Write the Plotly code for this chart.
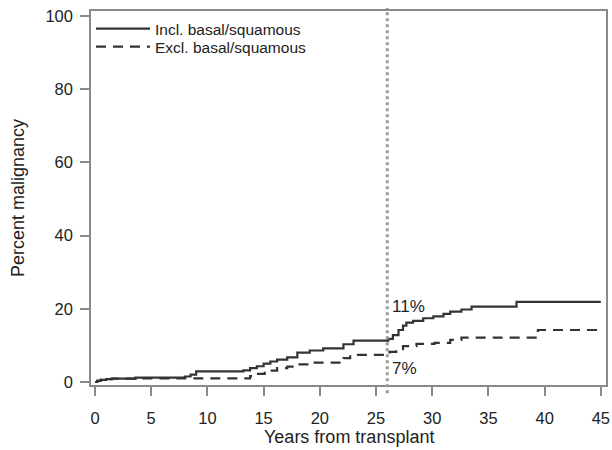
import plotly.graph_objects as go

# Data (years from transplant, percent malignancy)
incl_years = [0, 0.2, 0.5, 1.0, 1.5, 3.6, 8.0, 8.5, 9.0, 13.2, 13.8, 14.4, 15.0, 15.6, 16.2,
              17.1, 18.0, 19.1, 20.3, 22.1, 23.0, 26.1, 26.5, 27.0, 27.4, 27.7, 28.3, 29.2,
              30.1, 31.0, 31.6, 32.6, 33.5, 37.5, 45]
incl_pct = [0, 0.3, 0.6, 0.8, 0.9, 1.2, 1.5, 2.0, 2.9, 3.2, 3.8, 4.3, 5.0, 5.6, 6.1,
            6.7, 8.0, 8.6, 9.2, 10.3, 11.3, 11.8, 12.8, 14.2, 15.4, 16.2, 16.7, 17.4,
            17.9, 18.6, 19.2, 19.8, 20.6, 21.9, 21.9]

excl_years = [0, 0.2, 0.5, 1.0, 1.5, 3.6, 13.8, 14.5, 15.1, 16.2, 17.1, 18.2, 19.1, 22.1,
              22.7, 26.2, 26.8, 27.4, 28.6, 30.2, 31.6, 32.6, 39.4, 45]
excl_pct = [0, 0.3, 0.6, 0.8, 0.9, 1.0, 1.6, 2.2, 3.1, 3.8, 4.2, 4.8, 5.3, 6.5,
            7.4, 8.2, 9.0, 9.8, 10.4, 10.7, 11.5, 12.1, 14.2, 14.2]

series_names = ["Incl. basal/squamous", "Excl. basal/squamous"]
cutoff_year = 26
labels = ["11%", "7%"]
label_y = [20.7, 3.8]
x_ticks = [0, 5, 10, 15, 20, 25, 30, 35, 40, 45]
y_ticks = [0, 20, 40, 60, 80, 100]
x_title = "Years from transplant"
y_title = "Percent malignancy"

FONT = "Liberation Sans, Arial, sans-serif"
LINE = "#333333"
AXIS = "#8a8a8a"
TXT = "#222222"

fig = go.Figure()
fig.add_trace(go.Scatter(x=incl_years, y=incl_pct, mode="lines", line_shape="hv",
                         name=series_names[0], line=dict(color=LINE, width=2.2),
                         legend="legend"))
fig.add_trace(go.Scatter(x=excl_years, y=excl_pct, mode="lines", line_shape="hv",
                         name=series_names[1], line=dict(color=LINE, width=2.2, dash="10px,7px"),
                         legend="legend2"))

fig.add_shape(type="line", xref="x", yref="paper", x0=cutoff_year, x1=cutoff_year,
              y0=-0.022, y1=1.008, line=dict(color="#9a9a9a", width=3, dash="dot"), layer="above")

for txt, yv in zip(labels, label_y):
    fig.add_annotation(x=cutoff_year, y=yv, text=txt, showarrow=False, xanchor="left",
                       xshift=3, font=dict(size=17, color=TXT, family=FONT))

# axis titles
fig.add_annotation(text=x_title, xref="paper", yref="paper", x=0.5, y=-0.139,
                   xanchor="center", yanchor="middle", showarrow=False,
                   font=dict(size=18, color=TXT, family=FONT))
fig.add_annotation(text=y_title, xref="paper", yref="paper", x=-0.1417, y=0.5,
                   xanchor="center", yanchor="middle", textangle=-90, showarrow=False,
                   font=dict(size=18, color=TXT, family=FONT))

legend_common = dict(x=0.0, xanchor="left", yanchor="top", bgcolor="rgba(0,0,0,0)",
                     font=dict(size=15.5, color=TXT, family=FONT), itemwidth=54)

fig.update_layout(
    width=612, height=450,
    margin=dict(l=91, r=6, t=11, b=65),
    paper_bgcolor="white", plot_bgcolor="white",
    font=dict(family=FONT, color=TXT, size=16),
    showlegend=True,
    legend=dict(y=0.997, **legend_common),
    legend2=dict(y=0.949, **legend_common),
    xaxis=dict(range=[-0.356, 45.46], tickvals=x_ticks, ticks="outside", ticklen=9,
               tickcolor=AXIS, tickwidth=1.5, showline=True, linecolor=AXIS, linewidth=1.5,
               mirror=True, showgrid=False, zeroline=False, automargin=False,
               ticklabelstandoff=8, tickfont=dict(size=16.5, color=TXT)),
    yaxis=dict(range=[-0.82, 101.3], tickvals=y_ticks, ticks="outside", ticklen=9,
               tickcolor=AXIS, tickwidth=1.5, showline=True, linecolor=AXIS, linewidth=1.5,
               mirror=True, showgrid=False, zeroline=False, automargin=False,
               ticklabelstandoff=4, tickfont=dict(size=16.5, color=TXT)),
)

fig.write_html("out.html", config={"displayModeBar": False},
               post_script="document.body.style.margin='0px';")
